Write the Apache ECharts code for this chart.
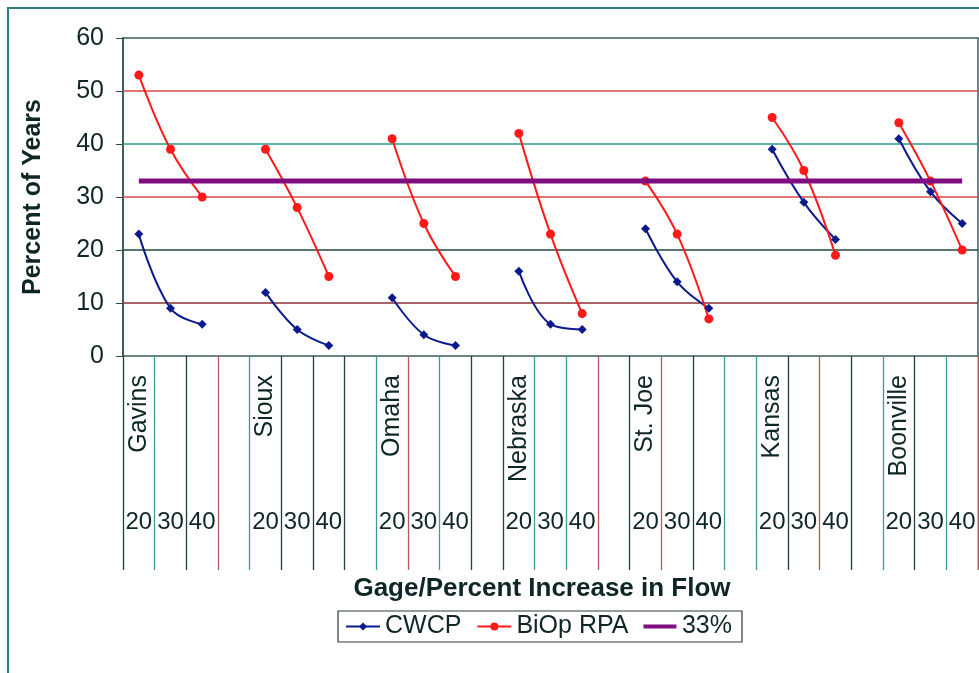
<!DOCTYPE html>
<html><head><meta charset="utf-8">
<script src="https://cdn.jsdelivr.net/npm/echarts@6/dist/echarts.min.js"></script>
<style>html,body{margin:0;padding:0;background:#fff}#c{width:979px;height:673px}</style>
</head><body><div id="c"></div>
<script>
// ---- data ----
const gauges = ['Gavins', 'Sioux', 'Omaha', 'Nebraska', 'St. Joe', 'Kansas', 'Boonville'];
const increments = ['20', '30', '40'];
const cwcp = [[23, 9, 6], [12, 5, 2], [11, 4, 2], [16, 6, 5], [24, 14, 9], [39, 29, 22], [41, 31, 25]];
const biop = [[53, 39, 30], [39, 28, 15], [41, 25, 15], [42, 23, 8], [33, 23, 7], [45, 35, 19], [44, 33, 20]];
const line33 = [33, 33, 33, 33, 33, 33, 33, 33, 33, 33, 33, 33, 33, 33, 33, 33, 33, 33, 33, 33, 33, 33, 33, 33, 33, 33, 33];
const seriesNames = ['CWCP', 'BiOp RPA', '33%'];
const yTickValues = [0, 10, 20, 30, 40, 50, 60];
const xTitle = 'Gage/Percent Increase in Flow';
const yTitle = 'Percent of Years';

// ---- build categories (group slots + blank separators) ----
const categories = [];
const cwcpData = [], biopData = [];
gauges.forEach((g, gi) => {
  increments.forEach((inc, ii) => {
    categories.push(g + '|' + inc);
    cwcpData.push(cwcp[gi][ii]);
    biopData.push(biop[gi][ii]);
  });
  if (gi < gauges.length - 1) {
    categories.push('gap' + gi);
    cwcpData.push(null);
    biopData.push(null);
  }
});

// ---- styles ----
const FONT = 'Liberation Sans, Arial, sans-serif';
const TXT = '#0f2626';
const tickClass = 'dTdRTdddTRTddTTRdRdTTdRdTdTd';
const tickColors = { d: '#1f3d3d', T: '#3a9a98', R: '#b25a5a' };
const gridColors = ['#2f4f4f', '#8b3030', '#1f4a3a', '#d84848', '#2a9a8a', '#d84848', '#2f4f4f'];

function tickAxis(cls) {
  return {
    type: 'category', data: categories, gridIndex: 0, position: 'bottom',
    boundaryGap: true,
    axisLine: { show: false },
    axisTick: {
      show: true, inside: false, length: 214,
      interval: (idx) => tickClass[idx] === cls,
      lineStyle: { color: tickColors[cls], width: 1.3 }
    },
    axisLabel: { show: false },
    splitLine: { show: false }
  };
}

const chart = echarts.init(document.getElementById('c'), null, { renderer: 'canvas' });
const numberAxis = tickAxis('T');
numberAxis.axisLabel = {
  show: true, interval: 0, margin: 154, fontSize: 24, fontFamily: FONT, color: TXT,
  formatter: v => (v.indexOf('|') >= 0 ? v.split('|')[1] : '')
};
const nameAxis = {
  type: 'category', data: categories, gridIndex: 0, position: 'bottom',
  axisLine: { show: false }, axisTick: { show: false }, splitLine: { show: false },
  axisLabel: {
    show: true, interval: 0, rotate: 90, margin: 19, fontSize: 25, fontFamily: FONT, color: TXT,
    formatter: v => (v.endsWith('|' + increments[0]) ? v.split('|')[0] : '')
  }
};

const gridMarks = yTickValues.slice(1, -1).map((v, i) => ({
  yAxis: v, lineStyle: { color: gridColors[i + 1], width: 1.5, type: 'solid' }
}));

const lineIcon = 'path://M0,0L0.01,0L0.01,0.01Z M0,3L33,3L33,7L0,7Z M0,10L0.01,10L0.01,9.99Z';

chart.setOption({
  animation: false,
  backgroundColor: '#ffffff',
  grid: {
    left: 123, top: 38, width: 855, height: 318,
    show: true, borderColor: '#3d5c5c', borderWidth: 1.5, backgroundColor: '#ffffff'
  },
  xAxis: [numberAxis, nameAxis, tickAxis('d'), tickAxis('R')],
  yAxis: {
    type: 'value', min: yTickValues[0], max: yTickValues[yTickValues.length - 1],
    interval: yTickValues[1] - yTickValues[0],
    name: yTitle, nameLocation: 'middle', nameGap: 77, nameRotate: 90,
    nameTextStyle: { fontSize: 25, fontWeight: 'bold', fontFamily: FONT, color: TXT },
    axisLine: { show: true, lineStyle: { color: '#2f4f4f', width: 1.5 } },
    axisTick: { show: true, length: 7, lineStyle: { color: '#2f4f4f' } },
    axisLabel: { margin: 19, fontSize: 25, fontFamily: FONT, color: TXT },
    splitLine: { show: false }
  },
  legend: {
    data: [
      { name: seriesNames[0] },
      { name: seriesNames[1] },
      { name: seriesNames[2], icon: lineIcon, itemStyle: { color: '#800d80', borderWidth: 0 } }
    ],
    left: 338, top: 611,
    padding: [3, 10, 3, 7], itemGap: 15, itemWidth: 34, itemHeight: 10,
    borderColor: '#2b3b3b', borderWidth: 1.2,
    textStyle: { fontSize: 25, fontFamily: FONT, color: TXT }
  },
  graphic: [
    { type: 'rect', shape: { x: 8, y: 8, width: 1000, height: 700 }, style: { fill: 'none', stroke: '#2a8080', lineWidth: 2 }, silent: true, z: -1 },
    { type: 'text', x: 542, y: 589, style: { text: xTitle, font: 'bold 26px ' + FONT, fill: TXT, textAlign: 'center', textVerticalAlign: 'middle' } }
  ],
  series: [
    {
      name: seriesNames[0], type: 'line', xAxisIndex: 0, data: cwcpData, smooth: 0.4, connectNulls: false,
      symbol: 'diamond', symbolSize: 9, showSymbol: true, z: 3,
      lineStyle: { color: '#0b1a8c', width: 2 }, itemStyle: { color: '#0b1a8c' },
      markLine: {
        silent: true, symbol: ['none', 'none'], z: 1, label: { show: false },
        emphasis: { disabled: true },
        data: gridMarks
      }
    },
    {
      name: seriesNames[1], type: 'line', xAxisIndex: 0, data: biopData, smooth: 0.4, connectNulls: false,
      symbol: 'circle', symbolSize: 9, showSymbol: true, z: 3,
      lineStyle: { color: '#ff1a1a', width: 2 }, itemStyle: { color: '#ff1a1a' }
    },
    {
      name: seriesNames[2], type: 'line', xAxisIndex: 0, data: line33, showSymbol: false, symbol: 'none', z: 4,
      lineStyle: { color: '#800d80', width: 5 }, itemStyle: { color: '#800d80' }
    }
  ]
});
</script></body></html>
